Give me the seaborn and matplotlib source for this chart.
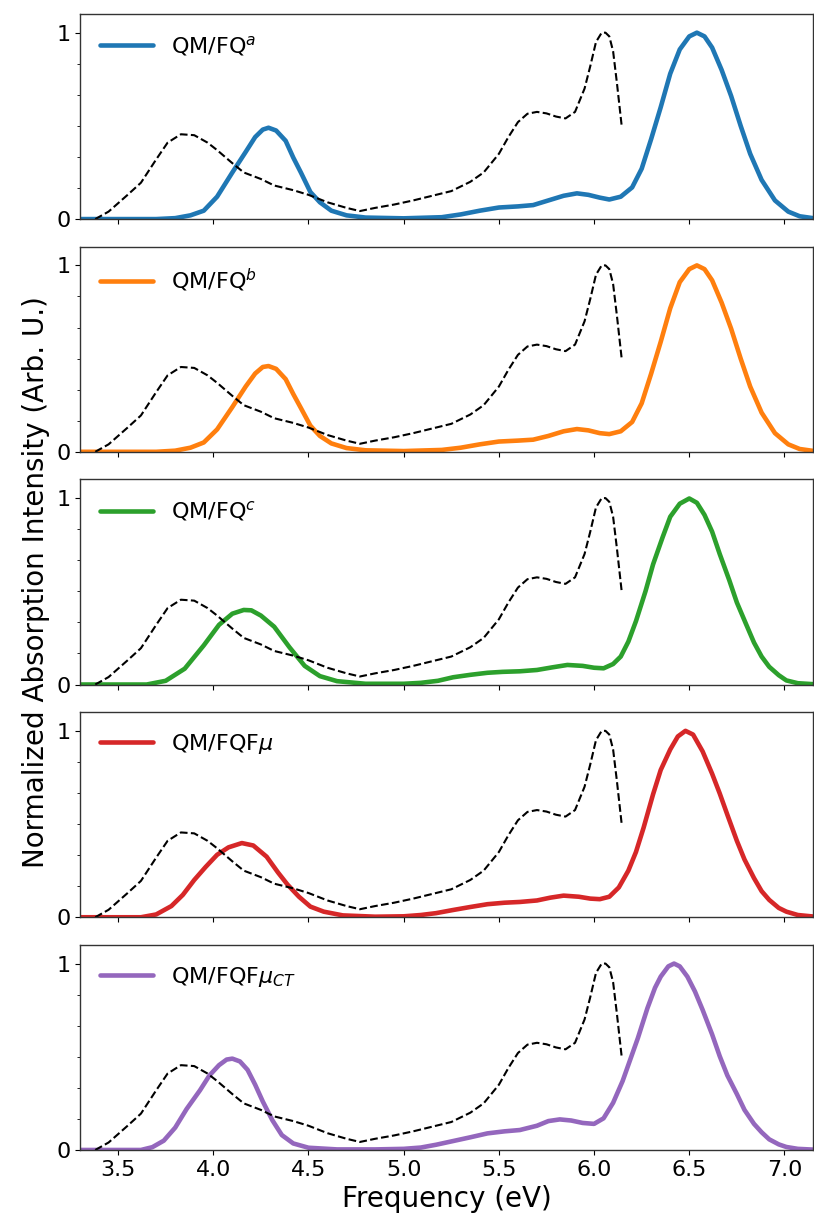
import matplotlib
matplotlib.use("Agg")
import matplotlib.pyplot as plt
from matplotlib.ticker import MultipleLocator
import seaborn as sns

# experimental spectrum (dashed, same in every panel)
exp_x = [3.38, 3.45, 3.50, 3.55, 3.62, 3.70, 3.76, 3.83, 3.90, 3.97,
         4.02, 4.10, 4.16, 4.25, 4.32, 4.42, 4.50, 4.60, 4.70, 4.77,
         4.85, 4.95, 5.05, 5.15, 5.25, 5.35, 5.42, 5.50, 5.55, 5.60,
         5.65, 5.70, 5.75, 5.80, 5.85, 5.90, 5.95, 5.98, 6.01, 6.04,
         6.06, 6.08, 6.10, 6.12, 6.145]
exp_y = [0.0, 0.04, 0.085, 0.13, 0.195, 0.32, 0.41, 0.455, 0.45, 0.41,
         0.37, 0.30, 0.25, 0.215, 0.18, 0.155, 0.13, 0.09, 0.06, 0.043,
         0.06, 0.078, 0.10, 0.125, 0.15, 0.20, 0.25, 0.35, 0.44, 0.52,
         0.565, 0.575, 0.567, 0.55, 0.54, 0.575, 0.70, 0.82, 0.95, 1.0,
         1.0, 0.98, 0.90, 0.73, 0.50]

# QM/FQ^a and QM/FQ^b share the same energy sampling
fq_x = [3.30, 3.70, 3.80, 3.88, 3.95, 4.02, 4.10, 4.17, 4.22, 4.26,
        4.29, 4.33, 4.38, 4.42, 4.46, 4.51, 4.56, 4.62, 4.70, 4.80,
        5.00, 5.20, 5.30, 5.40, 5.50, 5.60, 5.68, 5.76, 5.84, 5.91,
        5.97, 6.03, 6.08, 6.14, 6.20, 6.25, 6.30, 6.35, 6.40, 6.45,
        6.50, 6.54, 6.58, 6.62, 6.67, 6.72, 6.77, 6.82, 6.88, 6.95,
        7.02, 7.08, 7.15]
fq_a_y = [0.0, 0.0, 0.005, 0.02, 0.045, 0.12, 0.25, 0.36, 0.44, 0.48,
          0.49, 0.475, 0.42, 0.33, 0.25, 0.145, 0.09, 0.045, 0.02, 0.008,
          0.004, 0.01, 0.025, 0.045, 0.062, 0.068, 0.075, 0.10, 0.125, 0.138,
          0.13, 0.115, 0.105, 0.12, 0.17, 0.27, 0.43, 0.60, 0.78, 0.91,
          0.98, 1.0, 0.98, 0.92, 0.80, 0.66, 0.50, 0.35, 0.21, 0.10,
          0.04, 0.015, 0.005]
fq_b_y = [0.0, 0.0, 0.006, 0.022, 0.05, 0.12, 0.24, 0.35, 0.42, 0.455,
          0.46, 0.445, 0.39, 0.31, 0.235, 0.14, 0.085, 0.045, 0.02, 0.008,
          0.004, 0.01, 0.022, 0.04, 0.055, 0.06, 0.065, 0.085, 0.11, 0.122,
          0.115, 0.10, 0.095, 0.11, 0.16, 0.26, 0.42, 0.59, 0.77, 0.91,
          0.98, 1.0, 0.98, 0.92, 0.80, 0.66, 0.50, 0.35, 0.21, 0.10,
          0.04, 0.015, 0.005]

fq_c_x = [3.30, 3.65, 3.75, 3.85, 3.95, 4.03, 4.10, 4.16, 4.20, 4.25,
          4.32, 4.40, 4.48, 4.56, 4.65, 4.80, 5.00, 5.09, 5.18, 5.26,
          5.35, 5.44, 5.52, 5.61, 5.70, 5.78, 5.86, 5.94, 6.00, 6.05,
          6.10, 6.14, 6.18, 6.22, 6.27, 6.31, 6.36, 6.40, 6.45, 6.50,
          6.54, 6.58, 6.62, 6.66, 6.71, 6.75, 6.80, 6.84, 6.88, 6.92,
          6.97, 7.01, 7.07, 7.15]
fq_c_y = [0.0, 0.0, 0.02, 0.085, 0.21, 0.32, 0.38, 0.40, 0.398, 0.37,
          0.31, 0.20, 0.10, 0.045, 0.018, 0.004, 0.004, 0.009, 0.02, 0.039,
          0.052, 0.063, 0.068, 0.071, 0.078, 0.092, 0.105, 0.10, 0.09, 0.087,
          0.11, 0.15, 0.23, 0.34, 0.50, 0.645, 0.79, 0.90, 0.97, 0.998,
          0.975, 0.91, 0.82, 0.70, 0.56, 0.44, 0.32, 0.225, 0.15, 0.095,
          0.05, 0.022, 0.007, 0.002]

fqfmu_x = [3.30, 3.62, 3.70, 3.78, 3.84, 3.90, 3.96, 4.02, 4.08, 4.15,
           4.21, 4.28, 4.34, 4.39, 4.45, 4.51, 4.58, 4.68, 4.85, 5.00,
           5.09, 5.17, 5.26, 5.35, 5.44, 5.53, 5.61, 5.70, 5.77, 5.84,
           5.92, 5.98, 6.03, 6.08, 6.13, 6.18, 6.22, 6.26, 6.31, 6.35,
           6.40, 6.44, 6.48, 6.52, 6.57, 6.62, 6.66, 6.70, 6.75, 6.79,
           6.84, 6.88, 6.92, 6.97, 7.01, 7.07, 7.15]
fqfmu_y = [0.0, 0.0, 0.015, 0.06, 0.12, 0.20, 0.27, 0.335, 0.375, 0.398,
           0.385, 0.325, 0.24, 0.175, 0.11, 0.057, 0.03, 0.01, 0.003, 0.005,
           0.012, 0.022, 0.039, 0.055, 0.07, 0.078, 0.082, 0.09, 0.105, 0.116,
           0.11, 0.10, 0.097, 0.11, 0.16, 0.25, 0.35, 0.48, 0.66, 0.79,
           0.90, 0.97, 1.0, 0.98, 0.89, 0.77, 0.664, 0.55, 0.41, 0.31,
           0.21, 0.14, 0.093, 0.05, 0.03, 0.012, 0.004]

fqfmuct_x = [3.30, 3.62, 3.68, 3.74, 3.80, 3.86, 3.93, 3.98, 4.03, 4.07,
             4.10, 4.14, 4.18, 4.22, 4.26, 4.31, 4.36, 4.42, 4.50, 4.65,
             4.85, 5.00, 5.09, 5.17, 5.26, 5.35, 5.44, 5.53, 5.61, 5.70,
             5.76, 5.82, 5.88, 5.94, 6.00, 6.05, 6.10, 6.15, 6.19, 6.23,
             6.28, 6.32, 6.35, 6.39, 6.42, 6.45, 6.49, 6.53, 6.57, 6.62,
             6.66, 6.70, 6.75, 6.79, 6.84, 6.88, 6.92, 6.97, 7.01, 7.07,
             7.15]
fqfmuct_y = [0.0, 0.0, 0.015, 0.05, 0.12, 0.22, 0.32, 0.40, 0.455, 0.485,
             0.49, 0.475, 0.43, 0.35, 0.26, 0.16, 0.08, 0.035, 0.012, 0.003,
             0.003, 0.006, 0.013, 0.028, 0.048, 0.068, 0.089, 0.10, 0.107, 0.13,
             0.155, 0.164, 0.158, 0.145, 0.14, 0.17, 0.253, 0.37, 0.485, 0.60,
             0.76, 0.87, 0.93, 0.985, 1.0, 0.985, 0.93, 0.85, 0.752, 0.62,
             0.503, 0.40, 0.30, 0.215, 0.14, 0.095, 0.057, 0.03, 0.016, 0.006,
             0.002]

labels = [r"QM/FQ$^a$", r"QM/FQ$^b$", r"QM/FQ$^c$", r"QM/FQF$\mu$", r"QM/FQF$\mu_{CT}$"]
curves = [(fq_x, fq_a_y), (fq_x, fq_b_y), (fq_c_x, fq_c_y),
          (fqfmu_x, fqfmu_y), (fqfmuct_x, fqfmuct_y)]
colors = sns.color_palette("tab10")[:5]

sns.set_style("ticks")
plt.rcParams["font.family"] = ["DejaVu Sans"]
plt.rcParams["font.size"] = 16
for key in ["text.color", "axes.labelcolor", "xtick.color", "ytick.color"]:
    plt.rcParams[key] = "black"

fig, axes = plt.subplots(5, 1, figsize=(8.14, 12.2), dpi=100, sharex=True)
fig.subplots_adjust(left=0.0983, right=0.9988, top=0.9885, bottom=0.0574, hspace=0.135)

for ax, (x, y), label, color in zip(axes, curves, labels, colors):
    sns.lineplot(x=x, y=y, ax=ax, color=color, linewidth=3.3, label=label,
                 sort=False, solid_joinstyle="round", solid_capstyle="round")
    sns.lineplot(x=exp_x, y=exp_y, ax=ax, color="black", linestyle="--",
                 linewidth=1.5, sort=False, dash_joinstyle="round")
    ax.set_xlim(3.3, 7.15)
    ax.set_ylim(0, 1.1)
    ax.set_yticks([0, 1])
    ax.yaxis.set_minor_locator(MultipleLocator(1 / 6))
    ax.xaxis.set_major_locator(MultipleLocator(0.5))
    ax.tick_params(labelsize=16)
    ax.legend(loc="upper left", frameon=False, fontsize=16, handlelength=2.4,
              handletextpad=0.8)
    for s in ax.spines.values():
        s.set_linewidth(1.0)
        s.set_color("#333333")

axes[2].set_ylabel("Normalized Absorption Intensity (Arb. U.)", fontsize=20)
axes[-1].set_xlabel("Frequency (eV)", fontsize=20)

fig.savefig("out.png", dpi=100)
